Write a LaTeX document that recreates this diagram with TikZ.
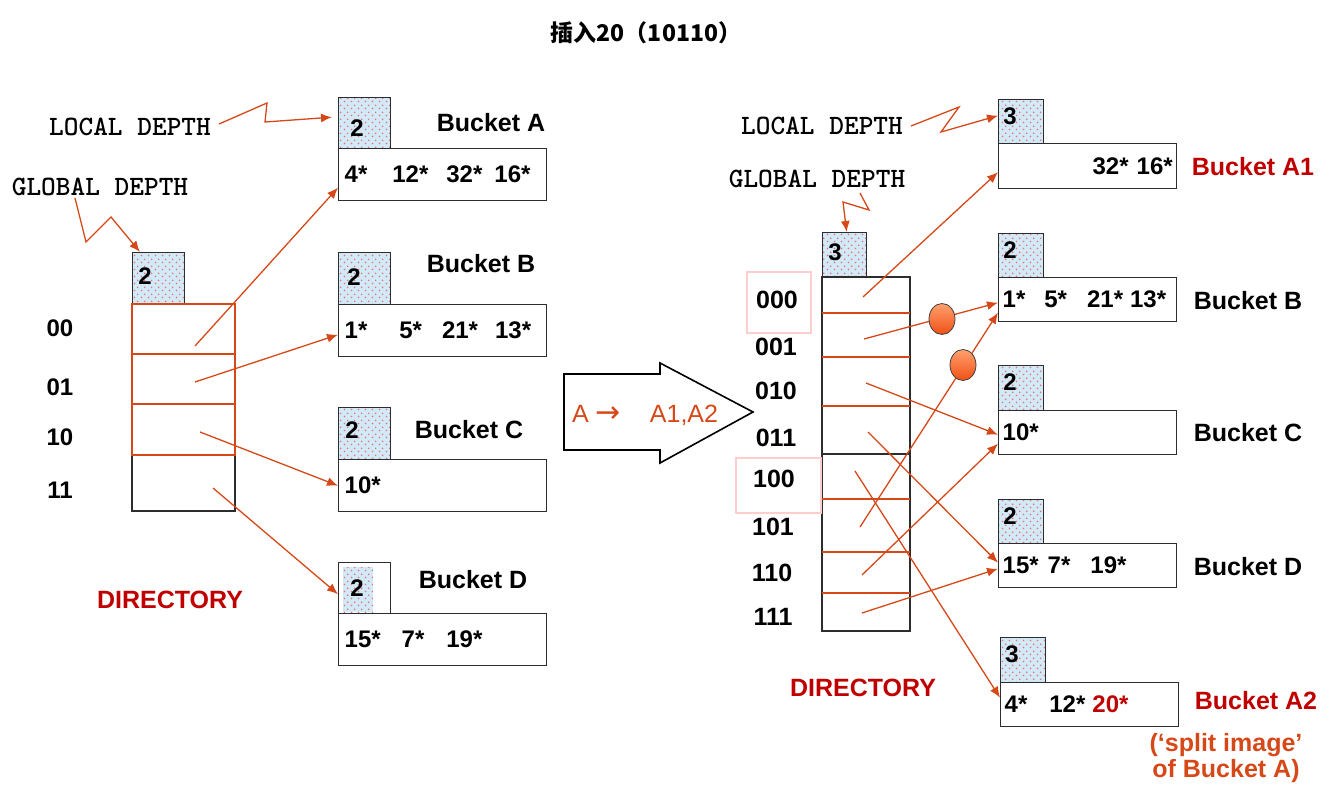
\documentclass[tikz,border=0pt]{standalone}
\usepackage{fontspec}
\setmainfont{Liberation Sans}
\newfontfamily\cjk{Noto Sans CJK SC}
\newfontfamily\symfont{DejaVu Sans}
\usetikzlibrary{arrows.meta, patterns.meta, positioning, shapes.geometric}

\definecolor{linkorange}{RGB}{214,72,24}
\definecolor{darkred}{RGB}{192,0,0}
\definecolor{pinkframe}{RGB}{255,205,205}
\definecolor{depthblue}{RGB}{210,233,248}
\definecolor{dotpink}{RGB}{228,120,120}
\definecolor{boxline}{RGB}{45,45,45}
\definecolor{ballhi}{RGB}{255,160,110}
\definecolor{balllo}{RGB}{240,80,20}

\tikzdeclarepattern{
  name=pinkdots,
  type=uncolored,
  bounding box={(0pt,0pt) and (7pt,7pt)},
  tile size={(7pt,7pt)},
  code={
    \fill (1.75pt,1.75pt) circle (1pt);
    \fill (5.25pt,5.25pt) circle (1pt);
  }
}

\begin{document}
\begin{tikzpicture}[x=1pt, y=-1pt,
    box/.style={draw=boxline, line width=1.4pt, fill=white},
    depthbox/.style={draw=boxline, line width=1.4pt, anchor=north west, inner sep=0pt,
      preaction={fill=depthblue}, pattern=pinkdots, pattern color=dotpink},
    databox/.style={box, anchor=north west, inner sep=0pt, align=left,
      font=\bfseries\fontsize{24}{28}\selectfont},
    num/.style={font=\bfseries\fontsize{24}{28}\selectfont, inner sep=0pt},
    lbl/.style={font=\bfseries\fontsize{24}{28}\selectfont, inner sep=0pt},
    bucketname/.style={font=\bfseries\fontsize{25}{30}\selectfont, inner sep=0pt},
    monotext/.style={font=\ttfamily\bfseries\fontsize{28}{32}\selectfont, inner sep=2pt},
    dirline/.style={draw=linkorange, line width=2pt},
    thinline/.style={draw=linkorange, line width=1.3pt},
    link/.style={draw=linkorange, line width=1.3pt, -{Latex[length=11pt,width=9pt]}},
    frame/.style={draw=pinkframe, line width=2pt},
    knot/.style={ellipse, draw=black!75, line width=0.8pt, minimum width=26, minimum height=31,
      inner sep=0pt, top color=ballhi, bottom color=balllo}
  ]
\useasboundingbox (0,0) rectangle (1339,789);

\node[font=\cjk\bfseries\fontsize{23}{26}\selectfont] (title) at (646,33) {插入20（10110）};

% ---- before the split ----
\node[monotext] (lld) at (130,127) {LOCAL DEPTH};
\node[monotext] (lgd) at (100,187) {GLOBAL DEPTH};

\node[depthbox, minimum width=52, minimum height=52] (lg) at (132,252) {};
\node[num] (lgn) at ([shift={(13,24)}]lg.north west) {2};
\draw[box, fill=none] (132,304) rectangle (235,511);
\draw[dirline] (132,304) rectangle (235,455);
\foreach \y in {354,404} {
    \draw[dirline] (132,\y) -- (235,\y);
}
\foreach \lab/\y in {00/328, 01/387, 10/437, 11/490} {
    \node[lbl] (r\lab) at (60,\y) {\lab};
}
\node[bucketname, text=darkred] (ldir) at (170,600) {DIRECTORY};

\node[depthbox, minimum width=52, minimum height=51] (ldA) at (338,97) {};
\node[num] (lnA) at ([shift={(19,31)}]ldA.north west) {2};
\node[databox, text width=196, inner xsep=6pt, minimum height=52] (lA) at (338,148)
    {4*\hspace{25pt}12*\hspace{18pt}32*\hspace{12pt}16*};
\node[bucketname] (lnameA) at (491,123) {Bucket A};

\node[depthbox, minimum width=52, minimum height=52] (ldB) at (338,252) {};
\node[num] (lnB) at ([shift={(16,25)}]ldB.north west) {2};
\node[databox, text width=196, inner xsep=6pt, minimum height=52] (lB) at (338,304)
    {1*\hspace{32pt}5*\hspace{20pt}21*\hspace{17pt}13*};
\node[bucketname] (lnameB) at (481,264) {Bucket B};

\node[depthbox, minimum width=52, minimum height=52] (ldC) at (338,407) {};
\node[num] (lnC) at ([shift={(14,23)}]ldC.north west) {2};
\node[databox, text width=196, inner xsep=6pt, minimum height=52] (lC) at (338,459) {10*};
\node[bucketname] (lnameC) at (469,430) {Bucket C};

\node[box, anchor=north west, minimum width=52, minimum height=51, inner sep=0pt] (ldD) at (338,562) {};
\fill[depthblue] (343,567) rectangle (373,612);
\fill[pattern=pinkdots, pattern color=dotpink] (343,567) rectangle (373,612);
\node[num] (lnD) at ([shift={(19,26)}]ldD.north west) {2};
\node[databox, text width=196, inner xsep=6pt, minimum height=52] (lD) at (338,613)
    {15*\hspace{21pt}7*\hspace{22pt}19*};
\node[bucketname] (lnameD) at (473,580) {Bucket D};

\draw[link] ([shift={(6,-3)}]lld.east) -- (267,103) -- (265,122) -- ([shift={(-6,-6)}]ldA.west);
\draw[link] ([xshift=-25pt]lgd.south) -- (86,242) -- (111,217) -- ([xshift=8pt]lg.north west);

\coordinate (c00) at (195,346);
\coordinate (c01) at (195,382);
\coordinate (c10) at (200,432);
\coordinate (c11) at (213,488);
\draw[link] (c00) -- ([shift={(0,13)}]lA.west);
\draw[link] (c01) -- ([shift={(0,4)}]lB.west);
\draw[link] (c10) -- (lC.west);
\draw[link] (c11) -- ([shift={(0,6)}]ldD.west);

% ---- the split ----
\draw[draw=black, line width=1.6pt] (564,374) -- (660,374) -- (660,363) -- (753,412)
    -- (660,463) -- (660,450) -- (564,450) -- cycle;
\node[anchor=west, inner sep=0pt, text=linkorange, font=\fontsize{25}{30}\selectfont] (split) at (572,415)
    {A {\symfont\fontsize{30}{30}\selectfont →}\hspace{29pt}A1,A2};

% ---- after the split ----
\node[monotext] (rld) at (822,126) {LOCAL DEPTH};
\node[monotext] (rgd) at (817,179) {GLOBAL DEPTH};

\node[depthbox, minimum width=44, minimum height=45] (rg) at (822,232) {};
\node[num] (rgn) at ([shift={(13,20)}]rg.north west) {3};
\draw[box, fill=none] (822,277) rectangle (910,631);
\foreach \y in {313,357,406,499,552,593} {
    \draw[thinline] (822,\y) -- (910,\y);
}
\draw[draw=boxline, line width=1.4pt] (822,454) -- (910,454);
\draw[frame] (747,272) rectangle (811,333);
\draw[frame] (736,458) rectangle (821,513);
\foreach \lab/\x/\y in {000/777/300, 001/776/347, 010/776/391, 011/776/438,
                        100/774/479, 101/773/527, 110/772/573, 111/773/617} {
    \node[font=\bfseries\fontsize{25}{30}\selectfont, inner sep=0pt] (r\lab) at (\x,\y) {\lab};
}
\node[bucketname, text=darkred] (rdir) at (863,688) {DIRECTORY};

% buckets on the right
\node[depthbox, minimum width=45, minimum height=44] (rdA1) at (998,99) {};
\node[num] (rnA1) at ([shift={(12,17)}]rdA1.north west) {3};
\node[databox, text width=170, inner xsep=4pt, minimum height=45, align=right] (rA1) at (998,143)
    {32*\hspace{8pt}16*};
\node[bucketname, text=darkred] (rnameA1) at (1253,167) {Bucket A1};

\node[depthbox, minimum width=45, minimum height=44] (rdB) at (998,233) {};
\node[num] (rnB) at ([shift={(12,17)}]rdB.north west) {2};
\node[databox, text width=170, inner xsep=4pt, minimum height=44] (rB) at (998,277)
    {1*\hspace{19pt}5*\hspace{20pt}21*\hspace{7pt}13*};
\node[bucketname] (rnameB) at (1248,301) {Bucket B};

\node[depthbox, minimum width=45, minimum height=45] (rdC) at (998,365) {};
\node[num] (rnC) at ([shift={(12,17)}]rdC.north west) {2};
\node[databox, text width=170, inner xsep=4pt, minimum height=44] (rC) at (998,410) {10*};
\node[bucketname] (rnameC) at (1248,433) {Bucket C};

\node[depthbox, minimum width=45, minimum height=44] (rdD) at (998,499) {};
\node[num] (rnD) at ([shift={(12,17)}]rdD.north west) {2};
\node[databox, text width=170, inner xsep=4pt, minimum height=44] (rD) at (998,543)
    {15*\hspace{9pt}7*\hspace{20pt}19*};
\node[bucketname] (rnameD) at (1248,567) {Bucket D};

\node[depthbox, minimum width=45, minimum height=45] (rdA2) at (1000,637) {};
\node[num] (rnA2) at ([shift={(12,17)}]rdA2.north west) {3};
\node[databox, text width=170, inner xsep=4pt, minimum height=44] (rA2) at (1000,682)
    {4*\hspace{22pt}12*\hspace{7pt}\textcolor{darkred}{20*}};
\node[bucketname, text=darkred] (rnameA2) at (1256,701) {Bucket A2};
\node[bucketname, text=linkorange, align=center, font=\bfseries\fontsize{25}{26}\selectfont] (image) at (1226,758)
    {(`split image\char"0027\\of Bucket A)};

\draw[link] ([shift={(6,0)}]rld.east) -- (959,107) -- (941,132) -- ([shift={(0,-6)}]rdA1.west);
\draw[link] (860,193) -- (869,210) -- (843,202) -- ([xshift=2pt]rg.north);

\coordinate (c000) at (863,297);
\coordinate (c001) at (864,339);
\coordinate (c010) at (866,383);
\coordinate (c011) at (868,432);
\coordinate (c100) at (855,471);
\coordinate (c101) at (860,527);
\coordinate (c110) at (862,575);
\coordinate (c111) at (862,613);
\draw[link] (c000) -- ([shift={(0,6)}]rA1.west);
\draw[link] (c001) -- ([shift={(0,3)}]rB.west);
\draw[link] (c101) -- ([shift={(0,13)}]rB.west);
\draw[link] (c010) -- ([shift={(0,2)}]rC.west);
\draw[link] (c110) -- ([shift={(0,11)}]rC.west);
\draw[link] (c011) -- ([shift={(0,-3)}]rD.west);
\draw[link] (c111) -- ([shift={(0,3)}]rD.west);
\draw[link] (c100) -- ([shift={(0,-7)}]rA2.west);

\node[knot] (k1) at (942,319) {};
\node[knot] (k2) at (963,365) {};
\end{tikzpicture}
\end{document}
